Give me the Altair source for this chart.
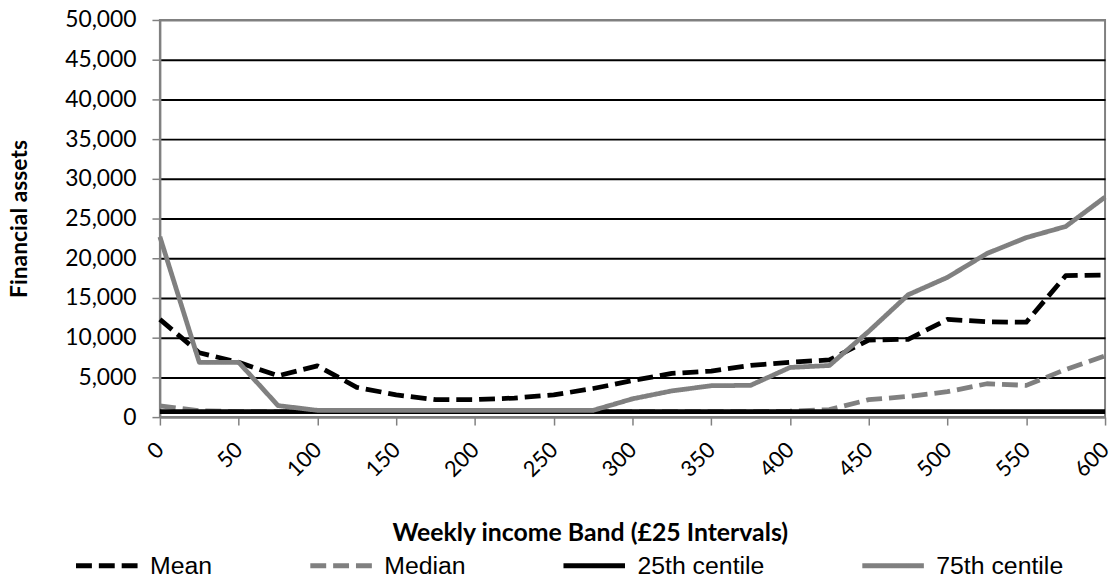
import altair as alt
import pandas as pd

income = [0, 25, 50, 75, 100, 125, 150, 175, 200, 225, 250, 275, 300,
          325, 350, 375, 400, 425, 450, 475, 500, 525, 550, 575, 600]
mean_vals = [12300, 8100, 6900, 5200, 6450, 3750, 2800, 2200, 2200, 2400, 2800, 3600, 4600,
             5500, 5800, 6500, 6900, 7200, 9700, 9800, 12300, 12000, 11950, 17800, 17900]
median_vals = [1400, 800, 700, 700, 700, 700, 700, 700, 700, 700, 700, 700, 700,
               700, 700, 700, 750, 950, 2200, 2600, 3200, 4200, 4000, 6000, 7700]
p25_vals = [700] * 25
p75_vals = [22700, 6900, 6900, 1450, 850, 850, 850, 850, 850, 850, 850, 850, 2300,
            3300, 3950, 4000, 6250, 6500, 10800, 15400, 17600, 20600, 22600, 24000, 27700]

series_names = ["Mean", "Median", "25th centile", "75th centile"]
series_colors = ["#000000", "#808080", "#000000", "#808080"]
series_dash = [[16, 7], [16, 7], [1, 0], [1, 0]]
x_ticks = list(range(0, 601, 50))
y_ticks = list(range(0, 50001, 5000))

rows = []
for name, vals in zip(series_names, [mean_vals, median_vals, p25_vals, p75_vals]):
    for x, v in zip(income, vals):
        rows.append({"income": x, "value": v, "series": name})
df = pd.DataFrame(rows)

GREY = "#808080"

chart = alt.Chart(df).mark_line(strokeWidth=4.8, strokeCap="butt", strokeJoin="round").encode(
    x=alt.X("income:Q",
            scale=alt.Scale(domain=[0, 600], nice=False, zero=False),
            axis=alt.Axis(values=x_ticks, title="Weekly income Band (£25 Intervals)",
                          format="d",
                          labelAngle=-45, labelAlign="right", labelBaseline="middle",
                          labelPadding=21, labelFont="Lato", labelFontSize=22,
                          labelColor="#000000", grid=False, labelOverlap=False,
                          labelBound=False, labelFlush=False,
                          domainColor=GREY, domainWidth=2,
                          tickColor=GREY, tickWidth=1.5, tickSize=8,
                          titleFont="Lato", titleFontSize=25, titleFontWeight="bold",
                          titleColor="#000000", titleX=433, titleY=124,
                          titleAlign="center", titleBaseline="alphabetic")),
    y=alt.Y("value:Q",
            scale=alt.Scale(domain=[0, 50000], nice=False),
            axis=alt.Axis(values=y_ticks, format=",.0f", title="Financial assets",
                          labelFont="Lato", labelFontSize=23, labelColor="#000000",
                          labelPadding=16, tickColor=GREY, tickWidth=1.5, tickSize=8,
                          domainColor=GREY, domainWidth=2, labelOverlap=False,
                          gridColor=alt.condition("datum.value == 0 || datum.value == 50000",
                                                  alt.value(GREY), alt.value("#000000")),
                          gridWidth=2,
                          titleFont="Lato", titleFontSize=23, titleFontWeight="bold",
                          titleColor="#000000", titleAngle=-90, titleX=-141,
                          titleY=200, titleAlign="center", titleBaseline="middle")),
    color=alt.Color("series:N",
                    scale=alt.Scale(domain=series_names, range=series_colors),
                    legend=alt.Legend(title=None)),
    strokeDash=alt.StrokeDash("series:N",
                              scale=alt.Scale(domain=series_names, range=series_dash),
                              legend=alt.Legend(title=None)),
).properties(
    width=952,
    height=400,
    autosize=alt.AutoSizeParams(type="none"),
    padding={"left": 153, "top": 10, "right": 7, "bottom": 162},
).configure_view(
    stroke=GREY, strokeWidth=2
).configure_legend(
    orient="none", legendX=-87, legendY=516, direction="horizontal", columns=4,
    symbolType="stroke", symbolSize=3844, symbolStrokeWidth=5,
    labelFont="Liberation Sans", labelFontSize=25, labelColor="#000000",
    labelOffset=10, columnPadding=88, padding=0
)

chart.save("out.html", embed_options={"renderer": "svg", "actions": False})
